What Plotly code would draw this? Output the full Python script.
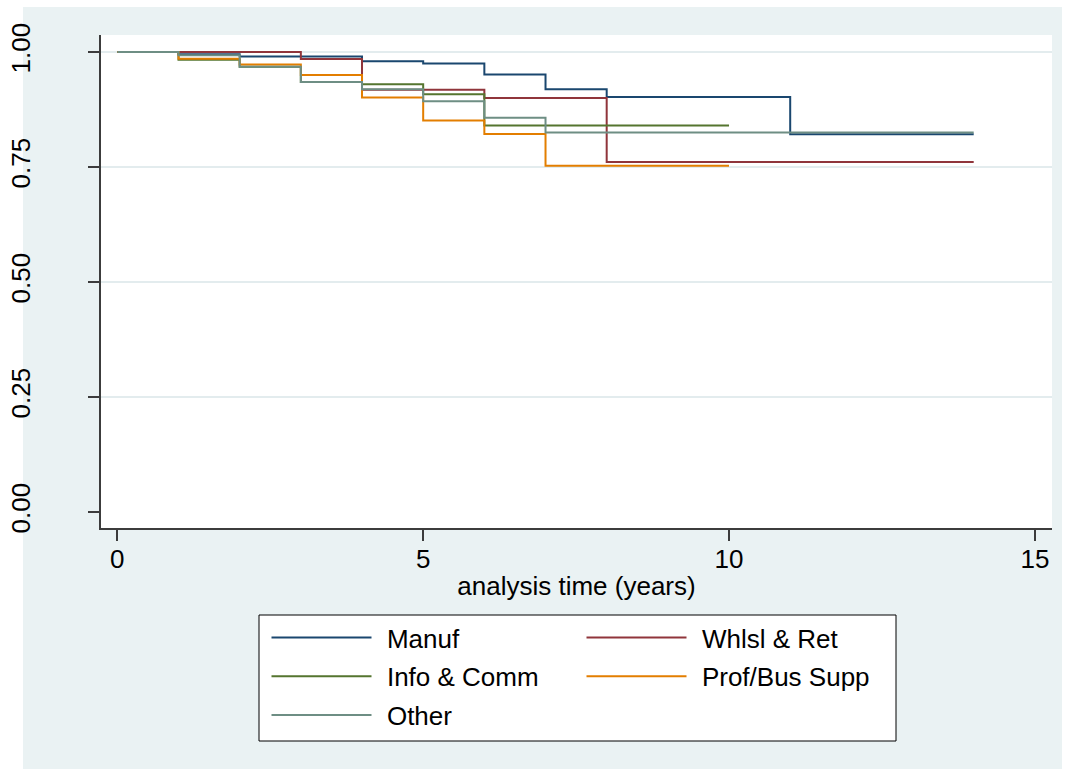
import plotly.graph_objects as go

# Kaplan-Meier survival estimates by industry group
groups = ["Manuf", "Whlsl & Ret", "Info & Comm", "Prof/Bus Supp", "Other"]
colors = ["#1A476F", "#90353B", "#55752F", "#E37E00", "#6E8E84"]
legend_column = ["legend", "legend2", "legend", "legend2", "legend"]

t_manuf = [0, 1, 2, 4, 5, 6, 7, 8, 11, 14]
s_manuf = [1.0, 0.995, 0.990, 0.980, 0.975, 0.951, 0.919, 0.902, 0.821, 0.821]

t_whlsl = [0, 3, 4, 6, 8, 14]
s_whlsl = [1.0, 0.985, 0.918, 0.900, 0.761, 0.761]

t_info = [0, 1, 2, 3, 4, 5, 6, 10]
s_info = [1.0, 0.983, 0.968, 0.935, 0.930, 0.908, 0.840, 0.840]

t_prof = [0, 1, 2, 3, 4, 5, 6, 7, 10]
s_prof = [1.0, 0.9855, 0.973, 0.950, 0.901, 0.851, 0.822, 0.753, 0.753]

t_other = [0, 1, 2, 3, 4, 5, 6, 7, 14]
s_other = [1.0, 0.993, 0.968, 0.935, 0.919, 0.893, 0.857, 0.825, 0.825]

x_ticks = [0, 5, 10, 15]
y_ticks = [0.0, 0.25, 0.5, 0.75, 1.0]
y_ticklabels = ["0.00", "0.25", "0.50", "0.75", "1.00"]
y_grid = [0.25, 0.5, 0.75, 1.0]

series = [(t_manuf, s_manuf), (t_whlsl, s_whlsl), (t_info, s_info),
          (t_prof, s_prof), (t_other, s_other)]

FONT = "Liberation Sans, Arial, Helvetica, sans-serif"
BG = "#EAF2F3"
AXIS = "#3c3c3c"
KEY_GAP = "\u2009\u2009"  # thin spaces between the legend key line and its label

fig = go.Figure()
for name, color, leg, (t, s) in zip(groups, colors, legend_column, series):
    fig.add_trace(go.Scatter(
        x=t, y=s, name=KEY_GAP + name, mode="lines", legend=leg,
        legendgroup=name,
        line=dict(color=color, width=2, shape="hv"),
    ))

# horizontal grid lines
for g in y_grid:
    fig.add_shape(type="line", xref="paper", x0=0, x1=1, yref="y", y0=g, y1=g,
                  line=dict(color="#E3ECEE", width=2), layer="below")

L, R, T, B = 101, 15, 35, 241
W, H = 1067, 769
PW, PH = W - L - R, H - T - B


def px_rect(x0, x1, y0, y1, layer, color="white", line=None):
    # rectangle given in page pixels (origin top-left)
    return dict(type="rect", layer=layer, line=line or dict(width=0),
                fillcolor=color,
                xref="paper", xsizemode="pixel", xanchor=0,
                x0=x0 - L, x1=x1 - L,
                yref="paper", ysizemode="pixel", yanchor=0,
                y0=(H - B) - y1, y1=(H - B) - y0)


# white page border around the tinted graph region
fig.add_shape(**px_rect(0, 23, 0, H, "below"))
fig.add_shape(**px_rect(0, W, 0, 7, "below"))
fig.add_shape(**px_rect(1062, W, 0, H, "below"))
# legend frame holding both key columns
fig.add_shape(**px_rect(259, 896, 615, 741, "above",
                        line=dict(color="black", width=1)))


def legend_at(px_left, px_top):
    return dict(
        orientation="v", xanchor="left", yanchor="top",
        x=(px_left - L) / PW, y=((H - B) - px_top) / PH,
        bgcolor="rgba(0,0,0,0)", borderwidth=0,
        font=dict(family=FONT, size=26, color="black"),
        itemwidth=100, traceorder="grouped", tracegroupgap=2,
    )


fig.update_layout(
    width=W, height=H,
    margin=dict(l=L, r=R, t=T, b=B, pad=0),
    paper_bgcolor=BG, plot_bgcolor="white",
    font=dict(family=FONT, size=26, color="black"),
    showlegend=True,
    legend=legend_at(266.5, 614),
    legend2=legend_at(581.5, 614),
    xaxis=dict(
        range=[-0.267, 15.28], tickvals=x_ticks, showgrid=False, zeroline=False,
        showline=True, linecolor=AXIS, linewidth=1.5,
        ticks="outside", ticklen=11, tickwidth=1.5, tickcolor=AXIS,
        ticklabelstandoff=-4,
        title=dict(text="analysis time (years)", standoff=4,
                   font=dict(family=FONT, size=26, color="black")),
        automargin=False,
    ),
    yaxis=dict(
        range=[-0.0348, 1.037], tickvals=y_ticks, ticktext=y_ticklabels,
        tickangle=-90, showgrid=False, zeroline=False,
        showline=True, linecolor=AXIS, linewidth=1.5,
        ticks="outside", ticklen=11, tickwidth=1.5, tickcolor=AXIS,
        ticklabelstandoff=48, automargin=False,
    ),
)

fig.write_html("out.html")
